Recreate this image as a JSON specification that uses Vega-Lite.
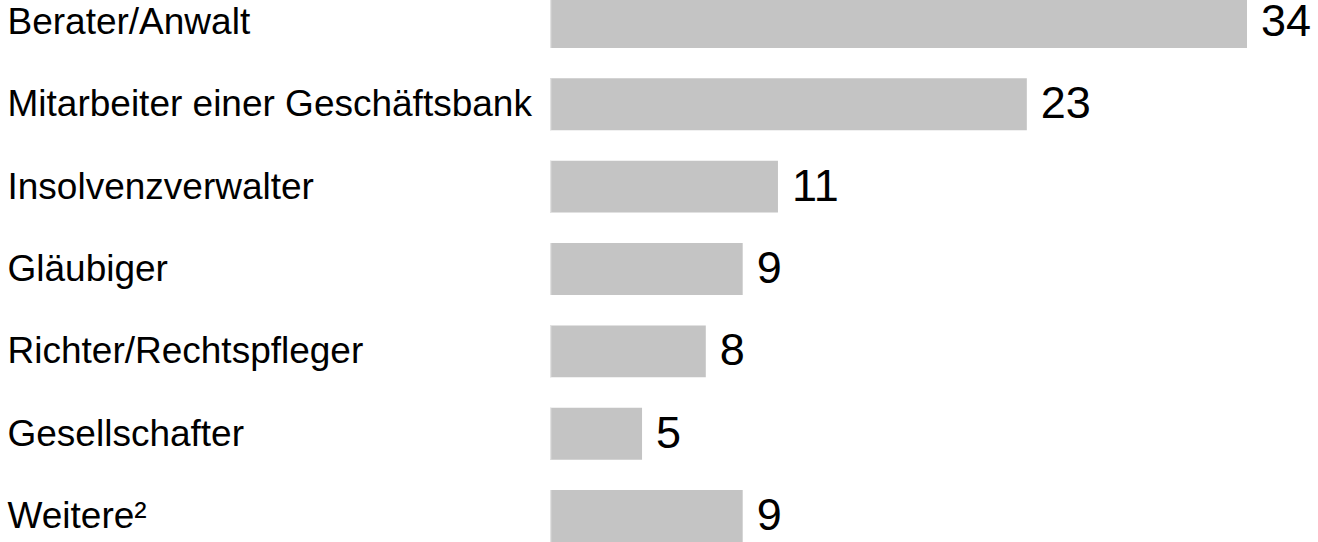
{
  "$schema": "https://vega.github.io/schema/vega-lite/v6.json",
  "autosize": "none",
  "padding": {"left": 550, "top": -4, "right": 71, "bottom": 0},
  "width": 697,
  "height": 546,
  "background": "white",
  "data": {
    "values": [
      {"kategorie": "Berater/Anwalt", "wert": 34, "label": "34"},
      {"kategorie": "Mitarbeiter einer Geschäftsbank", "wert": 23.26, "label": "23"},
      {"kategorie": "Insolvenzverwalter", "wert": 11.12, "label": "11"},
      {"kategorie": "Gläubiger", "wert": 9.4, "label": "9"},
      {"kategorie": "Richter/Rechtspfleger", "wert": 7.6, "label": "8"},
      {"kategorie": "Gesellschafter", "wert": 4.49, "label": "5"},
      {"kategorie": "Weitere²", "wert": 9.4, "label": "9"}
    ]
  },
  "encoding": {
    "y": {
      "field": "kategorie",
      "type": "nominal",
      "sort": null,
      "scale": {"paddingInner": 0.37, "paddingOuter": 0},
      "axis": {
        "title": null,
        "ticks": false,
        "domain": false,
        "labelAlign": "left",
        "labelPadding": 543,
        "labelLimit": 0,
        "labelFont": "Liberation Sans",
        "labelFontSize": 37,
        "labelColor": "#000000",
        "labelOffset": 1
      }
    },
    "x": {
      "field": "wert",
      "type": "quantitative",
      "scale": {"domain": [0, 34], "nice": false, "zero": true},
      "axis": null
    }
  },
  "layer": [
    {"mark": {"type": "bar", "color": "#c4c4c4"}},
    {
      "mark": {"type": "bar", "color": "#e2e2e2"},
      "encoding": {"x": {"datum": 0}, "x2": {"datum": 0.065}}
    },
    {
      "mark": {
        "type": "text",
        "align": "left",
        "baseline": "middle",
        "dx": 14,
        "font": "Liberation Sans",
        "fontSize": 45,
        "color": "#000000"
      },
      "encoding": {"text": {"field": "label"}}
    }
  ],
  "config": {"view": {"stroke": null}}
}
